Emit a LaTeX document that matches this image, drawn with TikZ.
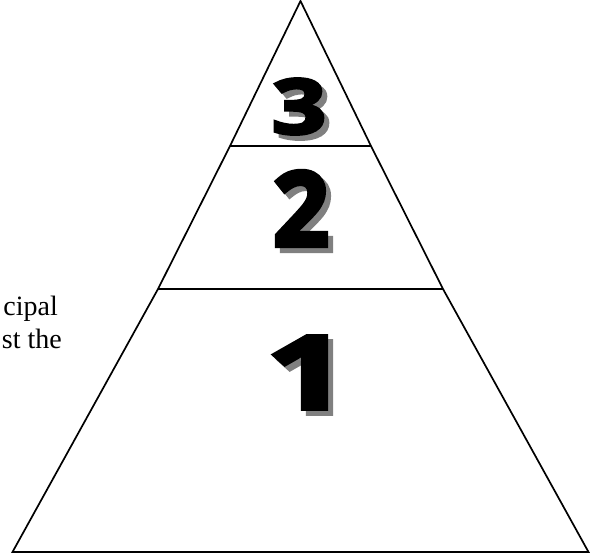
\documentclass[tikz,border=0pt]{standalone}
\usepackage{fontspec}
\setmainfont{Liberation Serif}
\newfontfamily\heavy{Open Sans}[FakeBold=4]
\tikzset{
  edge/.style={line width=1.7pt, line join=miter},
  num/.style={inner sep=0pt, anchor=center},
  shadownum/.style={num, text=black!50},
  body/.style={font=\fontsize{28}{32}\selectfont, inner sep=0pt, anchor=base east}
}
\begin{document}
\begin{tikzpicture}[x=1pt,y=-1pt]
\useasboundingbox (0,0) rectangle (599,554);
\coordinate (A) at (300.5,1);
\coordinate (L1) at (230,146);
\coordinate (R1) at (371,146);
\coordinate (L2) at (158,289);
\coordinate (R2) at (443,289);
\coordinate (L) at (12.5,552);
\coordinate (R) at (588.5,552);
\draw[edge] (A) -- (L1) -- (L2) -- (L) -- (R) -- (R2) -- (R1) -- cycle;
\draw[edge] (L1) -- (R1);
\draw[edge] (L2) -- (R2);
% numbers with shadows
\node[shadownum, font=\heavy\bfseries\fontsize{76}{76}\selectfont, xscale=1.25] (s3) at (304,111.5) {3};
\node[num, font=\heavy\bfseries\fontsize{76}{76}\selectfont, xscale=1.25] (n3) at (299,106.5) {3};
\node[shadownum, font=\heavy\bfseries\fontsize{104}{104}\selectfont, xscale=0.95] (s2) at (306,213.5) {2};
\node[num, font=\heavy\bfseries\fontsize{104}{104}\selectfont, xscale=0.95] (n2) at (301,208.5) {2};
\node[shadownum, font=\heavy\bfseries\fontsize{102}{102}\selectfont, xscale=1.4] (s1) at (312,377.5) {1};
\node[num, font=\heavy\bfseries\fontsize{102}{102}\selectfont, xscale=1.4] (n1) at (307,372.5) {1};
% text clipped at the left edge
\node[body] (t1) at (58,315) {cipal};
\node[body] (t2) at (62,348) {st the};
\end{tikzpicture}
\end{document}
